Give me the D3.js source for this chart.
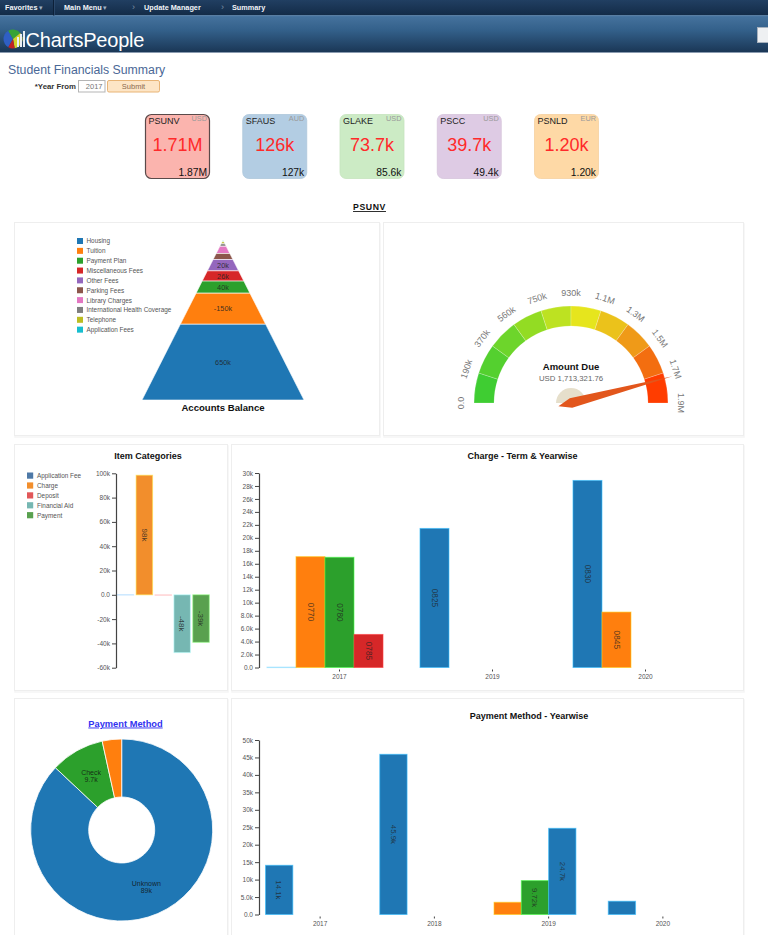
<!DOCTYPE html>
<html><head><meta charset="utf-8">
<script src="https://cdn.jsdelivr.net/npm/d3@7"></script>
<style>
html,body{margin:0;padding:0;background:#fff;}
svg{display:block;font-family:"Liberation Sans",Arial,Helvetica,sans-serif;}
</style></head>
<body><svg id="c" width="768" height="935"></svg>
<script>
// ---------------- DATA ----------------
const navItems = ["Favorites", "Main Menu", "Update Manager", "Summary"];
const pageTitle = "Student Financials Summary";
const yearFrom = "2017";

const campuses = ["PSUNV", "SFAUS", "GLAKE", "PSCC", "PSNLD"];
const currencies = ["USD", "AUD", "USD", "USD", "EUR"];
const amountDue = [1713321.76, 126000, 73700, 39700, 1200];
const totalBalance = [1866000, 127000, 85600, 49400, 1200];
const cardColors = ["#fbb4ae", "#b3cde3", "#ccebc5", "#decbe4", "#fed9a6"];

const balanceItems = ["Housing", "Tuition", "Payment Plan", "Miscellaneous Fees", "Other Fees",
  "Parking Fees", "Library Charges", "International Health Coverage", "Telephone", "Application Fees"];
const balanceValues = [650000, -150000, 40000, 26000, 20000, 7000, 5000, 900, 400, 100];

const gaugeValue = 1713321.76;
const gaugeMax = 1866000;
const gaugeTickLabels = ["0.0", "190k", "370k", "560k", "750k", "930k", "1.1M", "1.3M", "1.5M", "1.7M", "1.9M"];
const gaugeColors = ["#3fcd32", "#54d02f", "#6dd52b", "#93dc23", "#bde221", "#e6e51d", "#ebc21b", "#ef9a18", "#f36e10", "#ff3d00"];

const itemCategories = ["Application Fee", "Charge", "Deposit", "Financial Aid", "Payment"];
const itemValues = [150, 98400, -400, -47600, -39100];
const itemColors = ["#4e79a7", "#f28e2c", "#e15759", "#76b7b2", "#59a14f"];

const chargeYears = ["2017", "2019", "2020"];
const chargeBarYear = ["2017", "2017", "2017", "2017", "2019", "2020", "2020"];
const chargeBarTerm = ["0760", "0770", "0780", "0785", "0825", "0830", "0845"];
const chargeBarValue = [60, 17100, 17000, 5100, 21450, 28850, 8550];

const payYears = ["2017", "2018", "2019", "2020"];
const payBarYear = ["2017", "2018", "2019", "2019", "2019", "2020"];
const payBarMethod = ["Unknown", "Unknown", "Cash", "Check", "Unknown", "Unknown"];
const payBarValue = [14100, 45900, 3500, 9720, 24700, 3800];
const payMethods = ["Unknown", "Check", "Cash"];
const payMethodColors = ["#1f77b4", "#2ca02c", "#ff7f0e"];

// ---------------- HELPERS ----------------
const FONT = "Liberation Sans, Arial, sans-serif";
const cat10 = d3.schemeCategory10;
const fmt2 = v => d3.format(".2s")(v).replace("\u2212", "-");
const fmt3 = v => d3.format(".3s")(v).replace("\u2212", "-");
const svg = d3.select("#c");
const defs = svg.append("defs");

function grad(id, stops) {
  const g = defs.append("linearGradient").attr("id", id).attr("x1", 0).attr("y1", 0).attr("x2", 0).attr("y2", 1);
  stops.forEach(s => g.append("stop").attr("offset", s[0]).attr("stop-color", s[1]));
}
grad("navG", [["0%", "#213f62"], ["100%", "#132b47"]]);
grad("headG", [["0%", "#46739e"], ["40%", "#33608a"], ["100%", "#1a3655"]]);

function styleAxis(g, domain) {
  g.attr("font-family", FONT).attr("font-size", 6.5);
  g.selectAll(".tick text").attr("fill", "#555");
  g.selectAll(".tick line").attr("stroke", "#444");
  if (domain) g.select(".domain").attr("stroke", "#444").attr("stroke-width", 1.2);
  else g.select(".domain").remove();
}
function panel(x, y, w, h) {
  svg.append("rect").attr("x", x + 0.5).attr("y", y + 1.5).attr("width", w).attr("height", h)
    .attr("fill", "none").attr("stroke", "#f5f5f5").attr("stroke-width", 1.5);
  svg.append("rect").attr("x", x).attr("y", y).attr("width", w).attr("height", h)
    .attr("fill", "#fff").attr("stroke", "#eeeeee");
}
function title(x, y, t, size) {
  svg.append("text").attr("x", x).attr("y", y).attr("text-anchor", "middle")
    .attr("font-weight", "bold").attr("font-size", size || 9).attr("fill", "#111").text(t);
}
function barStyle(sel, c, h) {
  const tiny = h < 1.5;
  sel.attr("fill", tiny ? d3.color(c).brighter(1.5) : c)
    .attr("fill-opacity", tiny ? 0.35 : 1)
    .attr("stroke", d3.color(c).brighter(1.3)).attr("stroke-opacity", tiny ? 0.3 : 0.6).attr("stroke-width", 1);
}

// ---------------- BACKGROUND / HEADER ----------------
svg.append("rect").attr("width", 768).attr("height", 935).attr("fill", "#fff");
svg.append("rect").attr("width", 768).attr("height", 15.5).attr("fill", "url(#navG)");
svg.append("rect").attr("y", 15.5).attr("width", 768).attr("height", 37).attr("fill", "url(#headG)");
svg.append("rect").attr("y", 15.5).attr("width", 768).attr("height", 1).attr("fill", "#4d79a3");
svg.append("rect").attr("y", 52).attr("width", 768).attr("height", 1).attr("fill", "#8a9bb0");

const navX = [5, 64, 144, 232];
navItems.forEach((t, i) => {
  svg.append("text").attr("x", navX[i]).attr("y", 9.5).attr("font-size", 7.3).attr("font-weight", "bold")
    .attr("fill", "#f2f4f8").text(t);
});
[[38.5, "\u25BE"], [102.5, "\u25BE"]].forEach(d => svg.append("text").attr("x", d[0]).attr("y", 9.5)
  .attr("font-size", 7).attr("fill", "#9fb0c4").text(d[1]));
[[132, "\u203A"], [221, "\u203A"]].forEach(d => svg.append("text").attr("x", d[0]).attr("y", 10)
  .attr("font-size", 9).attr("fill", "#7d90a8").text(d[1]));
svg.append("rect").attr("x", 53).attr("y", 0).attr("width", 1).attr("height", 15.5).attr("fill", "#0d2038");
svg.append("rect").attr("x", 54).attr("y", 0).attr("width", 0.8).attr("height", 15.5).attr("fill", "#2f4d70");

// logo icon
const logoG = svg.append("g").attr("transform", "translate(13,39)");
const logoPie = d3.pie().sort(null)([3, 2, 3, 1]);
const logoCols = ["#2f5fc4", "#37a336", "#d0d22a", "#c22222"];
logoG.selectAll("path").data(logoPie).join("path")
  .attr("d", d3.arc().innerRadius(0).outerRadius(9.5)).attr("fill", (d, i) => logoCols[i])
  .attr("transform", "rotate(-150)");
[[4, -2, 2, 10], [7, -5, 2, 13], [10, -8, 2, 16]].forEach(b => logoG.append("rect")
  .attr("x", b[0]).attr("y", b[1]).attr("width", b[2]).attr("height", b[3]).attr("fill", "#e9eef4"));
svg.append("text").attr("x", 25.5).attr("y", 46.5).attr("font-size", 20).attr("fill", "#fff")
  .attr("letter-spacing", -0.2).text("ChartsPeople");
svg.append("rect").attr("x", 757.5).attr("y", 27.5).attr("width", 12).attr("height", 15)
  .attr("fill", "#eef0f2").attr("stroke", "#a7b1bd");

// page title + form
svg.append("text").attr("x", 8).attr("y", 73.5).attr("font-size", 12.3).attr("fill", "#4a6896").text(pageTitle);
svg.append("text").attr("x", 76).attr("y", 88.5).attr("text-anchor", "end").attr("font-size", 7.8)
  .attr("font-weight", "bold").attr("fill", "#333").text("*Year From");
svg.append("rect").attr("x", 78.5).attr("y", 80.5).attr("width", 26.5).attr("height", 11.5)
  .attr("fill", "#fff").attr("stroke", "#b5b5b5");
svg.append("text").attr("x", 102.5).attr("y", 88.8).attr("text-anchor", "end").attr("font-size", 7.5)
  .attr("fill", "#777").text(yearFrom);
svg.append("rect").attr("x", 107.5).attr("y", 80.5).attr("width", 52).attr("height", 11.5).attr("rx", 1.5)
  .attr("fill", "#fde5c6").attr("stroke", "#e8b476");
svg.append("text").attr("x", 133.5).attr("y", 88.8).attr("text-anchor", "middle").attr("font-size", 7.5)
  .attr("fill", "#8c6b4f").text("Submit");

// ---------------- KPI CARDS ----------------
const cardX = d3.scalePoint().domain(campuses).range([145, 534]);
campuses.forEach((c, i) => {
  const x = cardX(c), y = 114, w = 65, h = 65;
  const g = svg.append("g").attr("transform", `translate(${x},${y})`);
  g.append("rect").attr("x", 0.5).attr("y", 0.5).attr("width", w - 1).attr("height", h - 1).attr("rx", 6)
    .attr("fill", cardColors[i]).attr("stroke", i === 0 ? "#5a4a4a" : d3.color(cardColors[i]).darker(0.1))
    .attr("stroke-width", i === 0 ? 1.2 : 0.8);
  g.append("text").attr("x", 3.5).attr("y", 9.5).attr("font-size", 9).attr("fill", "#222").text(c);
  g.append("text").attr("x", w - 3).attr("y", 7).attr("text-anchor", "end").attr("font-size", 7.3)
    .attr("fill", "#9a9a9a").text(currencies[i]);
  g.append("text").attr("x", w / 2).attr("y", 36.5).attr("text-anchor", "middle").attr("font-size", 18)
    .attr("fill", "#ff2a2a").text(fmt3(amountDue[i]));
  g.append("text").attr("x", w - 3).attr("y", 62).attr("text-anchor", "end").attr("font-size", 10.3)
    .attr("fill", "#111").text(fmt3(totalBalance[i]));
});
svg.append("text").attr("x", 369.5).attr("y", 210).attr("text-anchor", "middle").attr("font-size", 8.7)
  .attr("font-weight", "bold").attr("letter-spacing", 0.6).attr("text-decoration", "underline")
  .attr("fill", "#111").text(campuses[0]);

// ---------------- PANELS ----------------
panel(14.5, 222.5, 365, 213);
panel(383.5, 222.5, 360, 213);
panel(14.5, 444.5, 213, 246);
panel(231.5, 444.5, 512, 246);
panel(14.5, 698.5, 213, 245);
panel(231.5, 698.5, 512, 245);

// ---------------- PYRAMID ----------------
(function () {
  const cx = 223, top = 240, bottom = 400, half = 81;
  const absV = balanceValues.map(Math.abs);
  const total = d3.sum(absV);
  const yS = d3.scaleSqrt().domain([0, total]).range([top, bottom]);
  const wS = d3.scaleLinear().domain([top, bottom]).range([0, half]);
  const order = d3.range(balanceItems.length).reverse();
  let cum = 0;
  const segs = order.map(i => { const s = cum; cum += absV[i]; return { i, s, e: cum }; });
  const g = svg.append("g");
  segs.forEach(d => {
    const y0 = yS(d.s), y1 = yS(d.e);
    g.append("path").attr("d", `M${cx - wS(y0)},${y0}L${cx + wS(y0)},${y0}L${cx + wS(y1)},${y1}L${cx - wS(y1)},${y1}Z`)
      .attr("fill", cat10[d.i]).attr("stroke", "#fff").attr("stroke-width", 0.6);
    if (y1 - y0 > 9) {
      g.append("text").attr("x", cx).attr("y", (y0 + y1) / 2).attr("dy", "0.35em").attr("text-anchor", "middle")
        .attr("font-size", 7.3).attr("fill", "#222").attr("fill-opacity", 0.85).text(fmt2(balanceValues[d.i]));
    }
  });
  title(cx, 411, "Accounts Balance", 9.6);
  const lg = svg.append("g");
  balanceItems.forEach((t, i) => {
    const y = 238 + i * 9.85;
    lg.append("rect").attr("x", 77).attr("y", y).attr("width", 6).attr("height", 6).attr("fill", cat10[i]);
    lg.append("text").attr("x", 86.5).attr("y", y + 5.4).attr("font-size", 6.4).attr("fill", "#555").text(t);
  });
})();

// ---------------- GAUGE ----------------
(function () {
  const cx = 571, cy = 403, r0 = 77, r1 = 97;
  const ang = d3.scaleLinear().domain([0, gaugeMax]).range([-Math.PI / 2, Math.PI / 2]);
  const g = svg.append("g").attr("transform", `translate(${cx},${cy})`);
  const arc = d3.arc().innerRadius(r0).outerRadius(r1);
  gaugeColors.forEach((c, i) => {
    g.append("path").attr("d", arc({ startAngle: ang(i * gaugeMax / 10), endAngle: ang((i + 1) * gaugeMax / 10) }))
      .attr("fill", c).attr("stroke", "#fff").attr("stroke-opacity", 0.35).attr("stroke-width", 0.6);
  });
  gaugeTickLabels.forEach((t, i) => {
    const a = ang(i * gaugeMax / 10);
    const x = 110 * Math.sin(a), y = -110 * Math.cos(a);
    g.append("text").attr("transform", `translate(${x},${y}) rotate(${a * 180 / Math.PI})`)
      .attr("text-anchor", "middle").attr("dy", "0.35em").attr("font-size", 9).attr("fill", "#777").text(t);
  });
  g.append("path").attr("d", d3.arc().innerRadius(0).outerRadius(15)({ startAngle: -Math.PI / 2, endAngle: Math.PI / 2 }))
    .attr("fill", "#e6dfcb");
  const deg = ang(gaugeValue) * 180 / Math.PI;
  g.append("path").attr("d", "M0,13L-5,0L0,-105L5,0Z").attr("transform", `rotate(${deg})`).attr("fill", "#e2561c");
  g.append("text").attr("x", 0).attr("y", -33).attr("text-anchor", "middle").attr("font-size", 9.5)
    .attr("font-weight", "bold").attr("fill", "#111").text("Amount Due");
  g.append("text").attr("x", 0).attr("y", -22.3).attr("text-anchor", "middle").attr("font-size", 7.8)
    .attr("fill", "#666").text("USD " + d3.format(",.2f")(gaugeValue));
})();

// ---------------- ITEM CATEGORIES ----------------
(function () {
  title(148, 458.5, "Item Categories");
  const y = d3.scaleLinear().domain([-60000, 100000]).range([667.7, 473.3]);
  const x = d3.scaleBand().domain(itemCategories).range([116, 210.5]).paddingInner(0.127).paddingOuter(0.064);
  const ax = svg.append("g").attr("transform", "translate(116,0)")
    .call(d3.axisLeft(y).ticks(8).tickSize(4).tickPadding(2).tickSizeOuter(0).tickFormat(fmt2));
  styleAxis(ax, true);
  itemCategories.forEach((c, i) => {
    const v = itemValues[i];
    const y0 = y(Math.max(0, v)), y1 = y(Math.min(0, v));
    const h = Math.max(0.5, y1 - y0);
    svg.append("rect").attr("x", x(c)).attr("y", y0).attr("width", x.bandwidth()).attr("height", h)
      .call(barStyle, itemColors[i], h);
    if (h > 20) {
      svg.append("text").attr("transform", `translate(${x(c) + x.bandwidth() / 2},${(y0 + y1) / 2}) rotate(90)`)
        .attr("text-anchor", "middle").attr("dy", "0.35em").attr("font-size", 8).attr("fill", "#222")
        .attr("fill-opacity", 0.8).text(fmt2(v));
    }
  });
  itemCategories.forEach((t, i) => {
    const yy = 472.5 + i * 9.9;
    svg.append("rect").attr("x", 27).attr("y", yy).attr("width", 6.2).attr("height", 6.2).attr("fill", itemColors[i]);
    svg.append("text").attr("x", 37).attr("y", yy + 5.6).attr("font-size", 6.4).attr("fill", "#555").text(t);
  });
})();

// ---------------- GROUPED BAR HELPER ----------------
function grouped(opts) {
  const { years, barYear, barValue, barLabel, barColor, slots, yMax, yTicks, yRange, xRange, pInner, pOuter, labelSize } = opts;
  const y = d3.scaleLinear().domain([0, yMax]).range(yRange);
  const x0 = d3.scaleBand().domain(years).range(xRange).paddingInner(pInner).paddingOuter(pOuter);
  const x1 = d3.scaleBand().domain(d3.range(slots)).range([0, x0.bandwidth()]);
  const ax = svg.append("g").attr("transform", `translate(${xRange[0] - 4},0)`)
    .call(d3.axisLeft(y).ticks(yTicks).tickSize(4).tickPadding(2).tickSizeOuter(0).tickFormat(fmt2));
  styleAxis(ax, true);
  const bx = svg.append("g").attr("transform", `translate(0,${yRange[0] + 2})`)
    .call(d3.axisBottom(x0).tickSize(2).tickPadding(3));
  styleAxis(bx, false);
  const slotCount = {};
  barYear.forEach((yr, i) => {
    const s = slotCount[yr] || 0; slotCount[yr] = s + 1;
    const c = barColor(i, s);
    const xx = x0(yr) + x1(s), v = barValue[i];
    const top = y(v), h = Math.max(0.5, yRange[0] - top);
    svg.append("rect").attr("x", xx).attr("y", top).attr("width", x1.bandwidth()).attr("height", h)
      .call(barStyle, c, h);
    if (h > 24) {
      svg.append("text").attr("transform", `translate(${xx + x1.bandwidth() / 2},${top + h / 2}) rotate(90)`)
        .attr("text-anchor", "middle").attr("dy", "0.35em").attr("font-size", labelSize).attr("fill", "#222")
        .attr("fill-opacity", 0.75).text(barLabel(i));
    }
  });
}

// ---------------- CHARGE - TERM & YEARWISE ----------------
title(522.5, 458.5, "Charge - Term & Yearwise");
grouped({
  years: chargeYears, barYear: chargeBarYear, barValue: chargeBarValue,
  barLabel: i => chargeBarTerm[i], barColor: (i, s) => cat10[s], slots: 5,
  yMax: 30000, yTicks: 15, yRange: [667.5, 473], xRange: [263, 722], pInner: 0.052, pOuter: 0.026, labelSize: 8.3
});

// ---------------- PAYMENT METHOD - YEARWISE ----------------
title(529, 719, "Payment Method - Yearwise");
grouped({
  years: payYears, barYear: payBarYear, barValue: payBarValue,
  barLabel: i => fmt3(payBarValue[i]), barColor: (i) => payMethodColors[payMethods.indexOf(payBarMethod[i])], slots: 4,
  yMax: 50000, yTicks: 10, yRange: [914.5, 740], xRange: [263, 720], pInner: 0.044, pOuter: 0.022, labelSize: 7.8
});

// ---------------- DONUT ----------------
(function () {
  const totals = payMethods.map(m => d3.sum(payBarValue.filter((v, i) => payBarMethod[i] === m)));
  const cx = 121.7, cy = 830, r0 = 33, r1 = 91;
  const pie = d3.pie().sort(null)(totals);
  const arc = d3.arc().innerRadius(r0).outerRadius(r1);
  const g = svg.append("g").attr("transform", `translate(${cx},${cy})`);
  pie.forEach((d, i) => {
    g.append("path").attr("d", arc(d)).attr("fill", payMethodColors[i]).attr("stroke", "#fff").attr("stroke-width", 0.8);
    if (d.endAngle - d.startAngle > 0.4) {
      const [lx, ly] = arc.centroid(d);
      const t = g.append("text").attr("x", lx).attr("y", ly).attr("text-anchor", "middle").attr("font-size", 7)
        .attr("fill", "#111").attr("fill-opacity", 0.85);
      t.append("tspan").attr("x", lx).attr("dy", "-0.15em").text(payMethods[i]);
      t.append("tspan").attr("x", lx).attr("dy", "1em").text(fmt2(totals[i]));
    }
  });
  svg.append("text").attr("x", 125.5).attr("y", 726.5).attr("text-anchor", "middle").attr("font-size", 9.3)
    .attr("font-weight", "bold").attr("fill", "#3232f0").attr("text-decoration", "underline").text("Payment Method");
})();
</script></body></html>
